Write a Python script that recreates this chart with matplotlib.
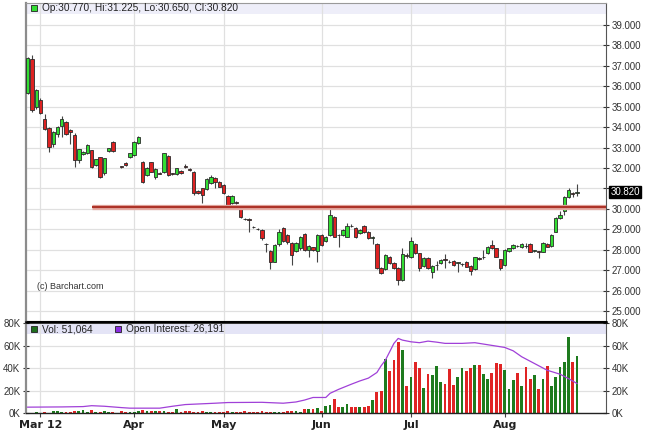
import numpy as np
import pandas as pd
import matplotlib
matplotlib.use("Agg")
import matplotlib.pyplot as plt
import matplotlib.transforms as mtransforms
from matplotlib.patches import Rectangle

plt.rcParams['font.family'] = ['Liberation Sans', 'DejaVu Sans']

nan = np.nan

# trading days shown on the chart (one slot per weekday)
dates = pd.bdate_range('2012-02-27', '2012-08-24')

# daily OHLC, one row per week (Mon..Fri)
opens = [35.69, 37.32, 34.97, 35.33, 34.40,
         33.94, 33.16, 33.65, 34.06, 34.27,
         33.86, 33.62, 32.39, 32.70, 32.72,
         32.88, 32.15, 32.52, 31.77, 32.83,
         33.29, nan, 32.08, 32.26, 32.52,
         32.64, 33.24, 32.28, 31.66, 32.28,
         31.57, 31.77, 31.82, 32.60, 31.74,
         31.69, 31.85, 32.12, 31.95, 31.82,
         30.88, 31.00, 30.97, 31.25, 31.50,
         31.33, 31.17, 30.63, 30.30, 30.32,
         30.14, 29.52, 29.48, 29.12, 29.02,
         28.97, 28.30, 27.94, 27.42, 28.28,
         29.06, 28.72, 28.33, 27.96, 28.07,
         28.77, 27.99, 28.12, 27.96, 28.72,
         28.44, 28.72, 29.62, 28.72, 28.72,
         28.64, 29.16, 29.06, 28.82, 29.16,
         28.88, 28.58, 28.28, 27.10, 27.04,
         27.66, 27.34, 27.10, 26.52, 27.72,
         27.63, 28.28, 27.83, 27.20, 27.58,
         26.93, 27.24, 27.34, 27.55, 27.42,
         27.47, 27.35, 27.28, 27.42, 27.20,
         27.05, 27.60, 27.62, 27.83, 28.23,
         28.07, 27.53, 27.25, 27.95, 28.07,
         28.20, 28.12, 28.20, 28.28, 27.95,
         27.92, 27.91, 28.28, 28.18, 28.88,
         29.54, 29.91, 30.60, 30.76, 30.77]

highs = [37.45, 37.53, 35.85, 35.45, 34.64,
         34.00, 33.82, 34.05, 34.55, 34.30,
         33.90, 33.70, 32.95, 32.85, 33.20,
         32.90, 32.45, 32.55, 32.50, 33.00,
         33.30, nan, 32.10, 32.30, 32.75,
         33.30, 33.55, 32.35, 32.05, 32.30,
         32.00, 31.82, 32.75, 32.62, 31.78,
         32.00, 31.88, 32.20, 31.98, 31.85,
         30.92, 31.02, 31.50, 31.65, 31.55,
         31.36, 31.20, 30.66, 30.66, 30.40,
         30.18, 29.56, 29.55, 29.18, 29.06,
         29.00, 28.34, 27.98, 28.26, 29.00,
         29.10, 28.75, 28.36, 28.38, 28.68,
         28.80, 28.22, 28.15, 28.76, 28.75,
         28.68, 30.14, 29.66, 28.76, 29.00,
         29.30, 29.26, 29.10, 29.00, 29.20,
         28.92, 28.66, 28.32, 27.14, 27.78,
         27.70, 27.38, 27.14, 28.07, 27.85,
         28.64, 28.32, 27.86, 27.62, 27.62,
         27.24, 27.45, 27.55, 27.80, 27.50,
         27.50, 27.40, 27.35, 27.46, 27.24,
         27.66, 27.65, 28.00, 28.18, 28.48,
         28.10, 27.57, 28.02, 28.10, 28.26,
         28.25, 28.32, 28.35, 28.32, 28.00,
         27.96, 28.38, 28.32, 28.76, 29.58,
         29.90, 30.64, 31.00, 30.85, 31.225]

lows = [35.60, 34.75, 34.90, 34.65, 33.85,
        32.80, 33.04, 33.50, 33.50, 33.60,
        33.20, 32.06, 32.26, 32.65, 32.70,
        32.00, 32.10, 31.50, 31.66, 32.80,
        32.80, nan, 32.00, 32.10, 32.50,
        32.60, 33.20, 31.25, 31.60, 31.80,
        31.46, 31.70, 31.78, 31.60, 31.66,
        31.65, 31.70, 32.00, 31.85, 30.70,
        30.74, 30.27, 30.90, 31.20, 31.00,
        31.05, 30.75, 30.15, 30.25, 30.25,
        29.55, 29.45, 28.88, 29.05, 28.95,
        28.50, 27.90, 27.04, 27.38, 28.20,
        28.40, 28.30, 27.25, 27.90, 28.00,
        27.95, 27.66, 27.95, 27.41, 28.20,
        28.40, 28.68, 28.60, 28.15, 28.68,
        28.60, 29.10, 28.58, 28.78, 28.84,
        28.52, 28.30, 27.05, 26.82, 27.00,
        27.30, 27.05, 26.27, 26.48, 27.60,
        27.60, 27.80, 26.95, 27.15, 27.05,
        26.60, 27.00, 27.30, 27.10, 27.35,
        27.20, 26.90, 27.20, 27.13, 26.75,
        27.00, 27.50, 27.55, 27.80, 28.03,
        27.62, 27.00, 27.20, 27.90, 28.03,
        28.12, 28.08, 28.10, 27.88, 27.88,
        27.60, 27.88, 28.12, 28.15, 28.85,
        29.50, 29.70, 30.55, 30.60, 30.65]

closes = [37.37, 34.84, 35.82, 34.71, 33.89,
          33.01, 33.78, 34.02, 34.38, 33.65,
          33.75, 32.39, 32.92, 32.80, 33.13,
          32.03, 32.43, 31.57, 32.48, 32.97,
          32.83, nan, 32.05, 32.15, 32.72,
          33.29, 33.50, 31.30, 32.02, 31.82,
          31.93, 31.73, 32.72, 31.66, 31.70,
          31.98, 31.74, 32.05, 31.90, 30.76,
          30.78, 30.68, 31.46, 31.57, 31.30,
          31.09, 30.79, 30.19, 30.63, 30.30,
          29.62, 29.50, 29.45, 29.10, 29.00,
          28.56, 28.28, 27.42, 28.23, 28.88,
          28.44, 28.39, 27.74, 28.35, 28.64,
          27.99, 28.18, 27.98, 28.72, 28.23,
          28.64, 29.70, 28.64, 28.70, 28.97,
          29.16, 29.14, 28.62, 28.97, 28.88,
          28.56, 28.62, 27.09, 26.86, 27.74,
          27.34, 27.09, 26.52, 27.79, 27.68,
          28.44, 27.83, 27.09, 27.58, 27.09,
          27.20, 27.27, 27.50, 27.52, 27.38,
          27.25, 27.38, 27.31, 27.17, 26.95,
          27.63, 27.57, 27.65, 28.15, 28.07,
          27.66, 27.09, 27.99, 28.07, 28.23,
          28.17, 28.28, 28.16, 27.91, 27.97,
          27.89, 28.35, 28.15, 28.72, 29.54,
          29.70, 30.60, 30.90, 30.73, 30.82]

# daily volume, thousands of contracts
volume_k = [0.3, 0.3, 0.5, 0.3, 0.5,
            0.3, 1.5, 1.5, 1.0, 1.0,
            1.0, 1.5, 1.5, 2.5, 1.0,
            3.0, 1.0, 1.0, 1.5, 1.0,
            1.0, nan, 1.5, 0.5, 1.0,
            1.0, 1.5, 2.5, 1.5, 1.5,
            1.5, 1.5, 1.5, 1.0, 1.0,
            3.5, 1.0, 1.5, 2.0, 1.0,
            1.0, 1.5, 1.0, 1.0, 1.0,
            1.0, 1.0, 2.0, 1.0, 1.0,
            1.0, 1.5, 1.0, 1.0, 1.0,
            1.5, 1.0, 0.5, 0.5, 0.5,
            1.0, 1.5, 2.0, 1.5, 1.0,
            4.0, 4.0, 4.0, 4.5, 2.0,
            6.0, 7.0, 12.8, 5.4, 5.4,
            8.3, 5.4, 5.4, 5.4, 5.4,
            6.0, 11.9, 18.7, 19.3, 47.6,
            37.5, 47.0, 63.3, 55.9, 24.0,
            32.0, 45.5, 40.4, 22.3, 35.0,
            33.6, 42.0, 27.4, 25.6, 38.7,
            24.7, 32.1, 39.6, 37.5, 39.6,
            43.1, 43.1, 34.5, 30.6, 36.0,
            44.6, 43.4, 38.0, 21.7, 29.7,
            36.0, 24.0, 41.0, 30.0, 33.6,
            21.7, 30.6, 41.6, 24.0, 32.1,
            41.0, 45.5, 67.2, 44.9, 51.064]

# open interest, thousands
oi_dates = ['2012-02-27', '2012-03-08', '2012-03-15', '2012-03-19', '2012-03-22',
            '2012-03-28', '2012-03-30', '2012-04-10', '2012-04-13', '2012-04-18',
            '2012-04-27', '2012-05-02', '2012-05-14', '2012-05-21', '2012-05-24',
            '2012-05-28', '2012-05-30', '2012-06-04', '2012-06-05', '2012-06-07',
            '2012-06-12', '2012-06-14', '2012-06-18', '2012-06-20', '2012-06-21',
            '2012-06-22', '2012-06-25', '2012-06-26', '2012-06-27', '2012-06-28',
            '2012-07-02', '2012-07-04', '2012-07-06', '2012-07-10', '2012-07-12',
            '2012-07-18', '2012-07-23', '2012-07-25', '2012-07-30', '2012-08-01',
            '2012-08-03', '2012-08-07', '2012-08-10', '2012-08-15', '2012-08-20',
            '2012-08-22', '2012-08-24']
oi_k = [5.2, 5.4, 5.7, 6.5, 6.0,
        4.8, 4.3, 4.3, 6.0, 7.5,
        8.7, 9.3, 9.5, 8.7, 9.8,
        11.5, 13.8, 13.8, 17.5, 21.0,
        25.6, 28.5, 31.0, 36.0, 42.0,
        47.0, 54.4, 61.9, 66.3, 64.8,
        63.3, 62.5, 63.9, 63.0, 61.9,
        61.9, 62.5, 61.3, 59.5, 58.3,
        55.3, 50.0, 44.0, 38.0, 34.5,
        30.6, 26.191]

support_level = 30.09
support_from = '2012-03-19'

price_ticks = list(range(25, 40))
vol_ticks = [0, 20, 40, 60, 80]

# ---------------------------------------------------------------
o = np.array(opens)
h = np.array(highs)
l = np.array(lows)
c = np.array(closes)
v = np.array(volume_k)
x = np.arange(len(dates))
have = ~np.isnan(o)
up = c >= o

fig = plt.figure(figsize=(6.45, 4.36), dpi=100)
ax = fig.add_axes([26/645, 115/436, 580/645, 318/436])
axv = fig.add_axes([26/645, 23/436, 580/645, 91/436], sharex=ax)

grid_col = '#e0e0e0'
month_pos = [i for i in range(1, len(dates)) if dates[i].month != dates[i-1].month]
month_lab = [dates[i].strftime('%b %y') if k == 0 else dates[i].strftime('%b')
             for k, i in enumerate(month_pos)]

for a in (ax, axv):
    a.set_axisbelow(True)
    a.set_xticks(month_pos)
    a.grid(True, color=grid_col, lw=0.9)
    a.spines['left'].set_color('#8c8c8c')
    a.spines['left'].set_linewidth(1.6)
    a.spines['right'].set_color('#555555')
    a.spines['right'].set_linewidth(0.8)

ax.set_xlim(-0.4, 135.8)

# legend bands
for a in (ax, axv):
    frac = 11/318 if a is ax else 12/91
    col = '#eeeef9' if a is ax else '#e4e4f6'
    a.add_patch(Rectangle((0, 1 - frac), 1, frac, transform=a.transAxes,
                          color=col, zorder=0.3, lw=0))

# candles
ax.vlines(x[have], l[have], h[have], color='#444444', lw=0.8, zorder=2)
body_col = np.where(up, '#33dd33', '#dd2222')
ax.bar(x[have], np.abs(c - o)[have], bottom=np.minimum(o, c)[have], width=0.8,
       color=body_col[have], edgecolor='#2a2a2a', linewidth=0.6, zorder=3)

# support line
start = dates.get_loc(pd.Timestamp(support_from))
ax.hlines(support_level, start, 135.8, color='#e5aca4', lw=3.8, zorder=4)
ax.hlines(support_level, start, 135.8, color='#ad3328', lw=1.6, zorder=4)

ax.set_ylim(24.51, 40.08)
ax.set_yticks(price_ticks)
ax.set_yticklabels(['' if abs(t - c[-1]) < 0.5 else f'{t:.3f}' for t in price_ticks])
ax.yaxis.tick_right()
ax.tick_params(axis='y', direction='inout', length=4, pad=2, labelsize=7,
               colors='#333333')
ax.tick_params(axis='x', length=0, labelbottom=False)
ax.spines['top'].set_color('#9a9a9a')
ax.spines['top'].set_linewidth(0.8)
ax.spines['bottom'].set_color('black')
ax.spines['bottom'].set_linewidth(0.8)

blend = mtransforms.blended_transform_factory(ax.transAxes, ax.transData)
ax.text(1.008, c[-1], f'{c[-1]:.3f}', transform=blend, ha='left', va='center',
        fontsize=7, color='white',
        bbox=dict(boxstyle='square,pad=0.12', fc='black', ec='black'))

ax.plot([0.0138], [0.984], marker='s', ms=5, mfc='#33dd33', mec='#222222',
        mew=0.6, transform=ax.transAxes, clip_on=False, zorder=6)
ax.text(0.0276, 0.984,
        f'Op:{o[-1]:.3f}, Hi:{h[-1]:.3f}, Lo:{l[-1]:.3f}, Cl:{c[-1]:.3f}',
        transform=ax.transAxes, va='center', fontsize=7.3, color='#222222')
ax.text(0.019, 0.107, '(c) Barchart.com', transform=ax.transAxes, va='center',
        fontsize=6.5, color='#333333')

# volume + open interest
hv = ~np.isnan(v)
vol_col = np.where(up, '#1e7b1e', '#e02424')
axv.bar(x[hv], v[hv], width=0.66, color=vol_col[hv], zorder=2)
oi_x = dates.get_indexer(pd.to_datetime(oi_dates))
axv.plot(oi_x, oi_k, color='#a040d8', lw=0.9, zorder=3)

axv.set_ylim(0, 80.9)
axv.set_yticks(vol_ticks)
axv.set_yticklabels([f'{t}K' for t in vol_ticks])
axv.tick_params(axis='y', left=True, right=True, labelleft=True, labelright=True,
                direction='inout', length=4, pad=2, labelsize=7, colors='#333333')
axv.set_xticklabels(month_lab, fontfamily='Liberation Sans Narrow',
                    fontweight='bold', fontsize=8, color='#222222')
axv.tick_params(axis='x', length=3, pad=2, color='#444444')
axv.spines['top'].set_color('black')
axv.spines['top'].set_linewidth(1.8)
axv.spines['bottom'].set_color('#222222')
axv.spines['bottom'].set_linewidth(1.0)

axv.plot([0.0138], [0.923], marker='s', ms=5, mfc='#1e6e1e', mec='#222222',
         mew=0.6, transform=axv.transAxes, clip_on=False, zorder=6)
axv.text(0.0276, 0.923, f'Vol: {int(round(v[-1] * 1000)):,}', transform=axv.transAxes,
         va='center', fontsize=7.3, color='#222222')
axv.plot([0.159], [0.923], marker='s', ms=5, mfc='#8a2be2', mec='#222222',
         mew=0.6, transform=axv.transAxes, clip_on=False, zorder=6)
axv.text(0.172, 0.923, f'Open Interest: {int(round(oi_k[-1] * 1000)):,}',
         transform=axv.transAxes, va='center', fontsize=7.3, color='#222222')

fig.savefig('out.png', dpi=100)
